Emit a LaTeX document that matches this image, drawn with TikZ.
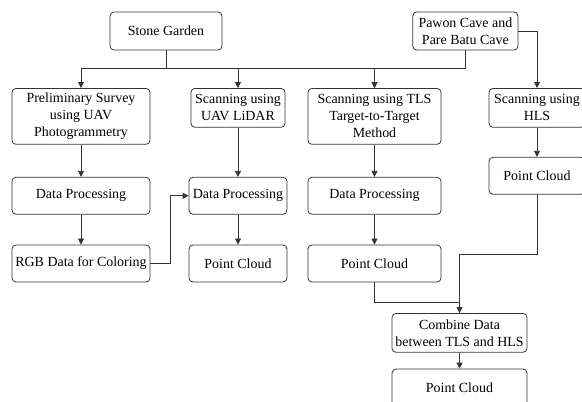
\documentclass[tikz,border=0pt]{standalone}
\usepackage{fontspec}
\setmainfont{Liberation Serif}
\usetikzlibrary{arrows.meta, positioning}

\begin{document}
\begin{tikzpicture}[
  x=0.2646mm, y=-0.2646mm,
  block/.style={draw=black!80, line width=0.6pt, rounded corners=3pt, minimum height=9.8mm, align=center, inner xsep=1pt, inner ysep=2pt, font=\fontsize{10.5}{12.8}\selectfont},
  line/.style={-{Triangle[length=4.5pt, width=4.5pt]}, black!80, line width=0.6pt},
  node distance=8mm
]
\useasboundingbox (0,0) rectangle (582,401);
\clip (0,0) rectangle (582,401);

\node[block, minimum width=29.6mm, minimum height=10.1mm] (stone) at (166,31) {Stone Garden};
\node[block, minimum width=27.8mm, minimum height=10.1mm, right=50.3mm of stone] (pawon) {Pawon Cave and\\Pare Batu Cave};

% first row of methods
\node[block, minimum width=36.5mm, minimum height=14.8mm, anchor=north] (survey) at (81,88) {Preliminary Survey\\using UAV\\Photogrammetry};
\node[block, minimum width=24.9mm, minimum height=10.3mm, anchor=north] (lidar) at (238,88) {Scanning using\\UAV LiDAR};
\node[block, minimum width=35.2mm, minimum height=14.8mm, anchor=north] (tls) at (374.5,88) {Scanning using TLS\\Target-to-Target\\Method};
\node[block, minimum width=25.4mm, minimum height=10.3mm, anchor=north] (hls) at (537,88) {Scanning using\\HLS};

\node[block, minimum width=36.5mm, below=8.5mm of survey] (procA) {Data Processing};
\node[block, minimum width=36.5mm, below=7.9mm of procA] (rgb) {RGB Data for Coloring};

\node[block, minimum width=25.9mm, below=13mm of lidar] (procB) {Data Processing};
\node[block, minimum width=25.9mm, below=7.9mm of procB] (cloudB) {Point Cloud};

\node[block, minimum width=35.2mm, below=8.5mm of tls] (procC) {Data Processing};
\node[block, minimum width=35.2mm, below=7.9mm of procC] (cloudC) {Point Cloud};

\node[block, minimum width=25.4mm, below=7.7mm of hls] (cloudD) {Point Cloud};

% merging TLS and HLS
\node[block, minimum width=35.7mm, minimum height=10.3mm, anchor=north] (merge) at (459.5,313) {Combine Data\\between TLS and HLS};
\node[block, minimum width=35.7mm, below=4.2mm of merge] (cloudF) {Point Cloud};

\coordinate (bus) at (0,68);
\draw[line] (stone.south) |- (survey.north |- bus) -- (survey.north);
\draw[line] (stone.south) |- (lidar.north |- bus) -- (lidar.north);
\draw[line] (stone.south) |- (tls.north |- bus) -- (tls.north);
\draw[line] (pawon.south) |- (tls.north |- bus) -- (tls.north);
\draw[line] (pawon.east) -| (hls.north);

\draw[line] (survey) -- (procA);
\draw[line] (procA) -- (rgb);
\draw[line] (rgb.east) -- ++(20,0) |- (procB.west);
\draw[line] (lidar) -- (procB);
\draw[line] (procB) -- (cloudB);
\draw[line] (tls) -- (procC);
\draw[line] (procC) -- (cloudC);
\draw[line] (hls) -- (cloudD);

\draw[black!80, line width=0.6pt] (cloudC.south) -- ++(0,20) -| (merge.north);
\draw[line] (cloudD.south) -- ++(0,60) -| (merge.north);
\draw[line] (merge) -- (cloudF);
\end{tikzpicture}
\end{document}
